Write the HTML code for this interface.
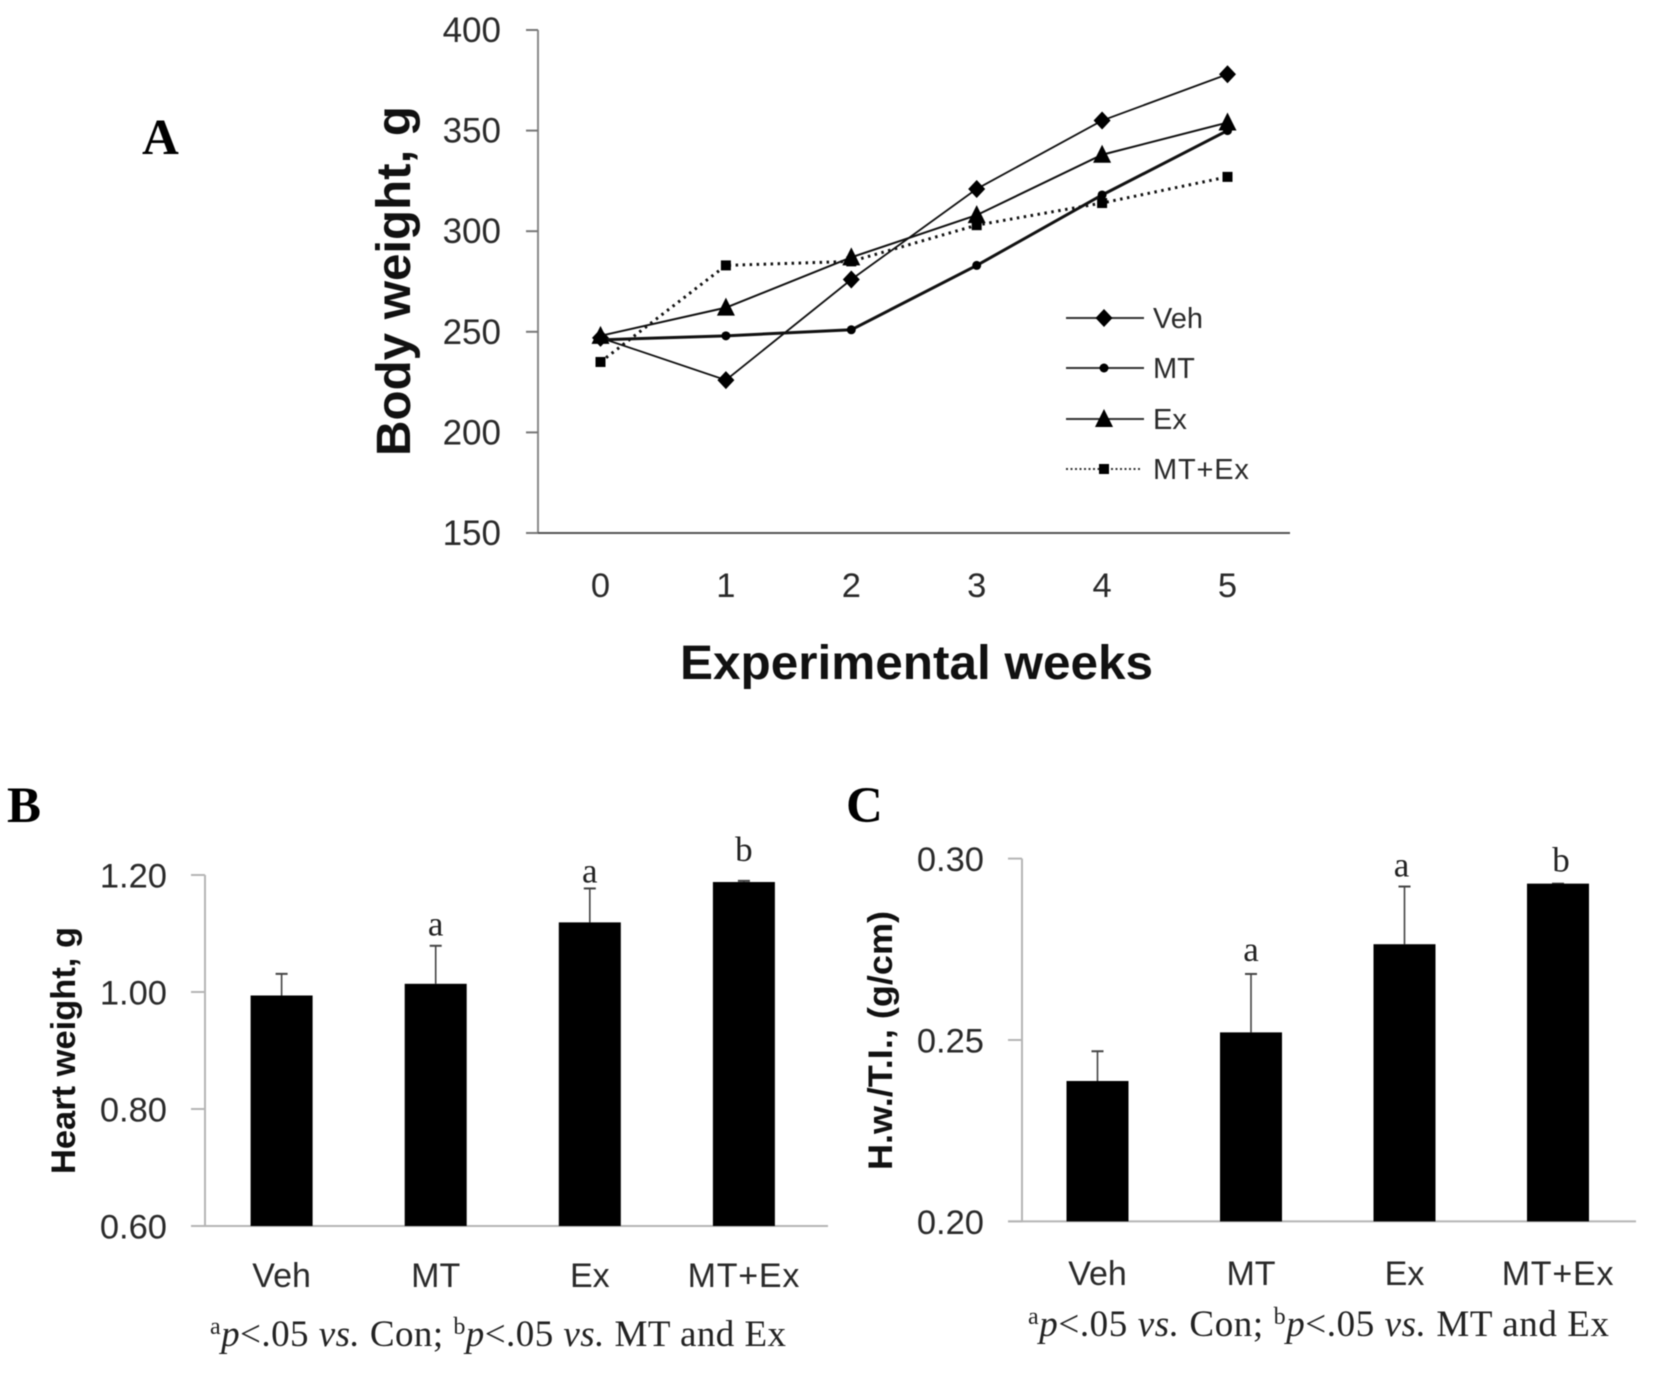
<!DOCTYPE html>
<html>
<head>
<meta charset="utf-8">
<title>Body weight, heart weight and H.w./T.I. charts</title>
<style>
html,body{margin:0;padding:0;background:#fff;width:1654px;height:1375px;overflow:hidden}
svg{display:block;filter:blur(0.45px)}
text{font-family:"Liberation Sans","Noto Sans CJK KR",sans-serif}
.serif{font-family:"Liberation Serif","Noto Serif CJK SC",serif}
.tick{font-size:34.5px;fill:#2a2a2a}
.tick-a{font-size:35px}
.cat{font-size:34px;fill:#2a2a2a}
.title{font-weight:bold;fill:#111}
.panel{font-family:"Liberation Serif",serif;font-weight:bold;font-size:51px;fill:#000}
.note{font-family:"Liberation Serif",serif;font-size:37px;fill:#222}
.sup{font-size:24px}
.sig{font-family:"Liberation Serif",serif;font-size:35px;fill:#222}
.leg{font-size:29px;fill:#2a2a2a}
</style>
</head>
<body>
<svg id="figure" xmlns="http://www.w3.org/2000/svg" width="1654" height="1375" viewBox="0 0 1654 1375">
  <rect x="0" y="0" width="1654" height="1375" fill="#fff"/>

  <text class="panel" x="142" y="154">A</text>
  <text class="panel" x="7" y="822">B</text>
  <text class="panel" x="846" y="822">C</text>

  <text class="title" font-size="48" textLength="350" lengthAdjust="spacingAndGlyphs" transform="translate(410,456) rotate(-90)">Body weight, g</text>
  <text class="title" font-size="48" textLength="473" lengthAdjust="spacingAndGlyphs" x="680" y="679">Experimental weeks</text>
  <text class="title" font-size="34" textLength="247" lengthAdjust="spacingAndGlyphs" transform="translate(75,1174) rotate(-90)">Heart weight, g</text>
  <text class="title" font-size="34" textLength="259" lengthAdjust="spacingAndGlyphs" transform="translate(892,1170) rotate(-90)">H.w./T.I., (g/cm)</text>

  <text class="note" x="210" y="1346" textLength="576"><tspan class="sup" dy="-12">a</tspan><tspan dy="12" font-style="italic">p</tspan>&lt;.05 <tspan font-style="italic">vs.</tspan> Con; <tspan class="sup" dy="-12">b</tspan><tspan dy="12" font-style="italic">p</tspan>&lt;.05 <tspan font-style="italic">vs.</tspan> MT and Ex</text>
  <text class="note" x="1028" y="1336" textLength="581"><tspan class="sup" dy="-12">a</tspan><tspan dy="12" font-style="italic">p</tspan>&lt;.05 <tspan font-style="italic">vs.</tspan> Con; <tspan class="sup" dy="-12">b</tspan><tspan dy="12" font-style="italic">p</tspan>&lt;.05 <tspan font-style="italic">vs.</tspan> MT and Ex</text>

  <g id="chart-a"></g>
  <g id="chart-b"></g>
  <g id="chart-c"></g>
</svg>

<script>
// Panel A data
const weeks = ['0', '1', '2', '3', '4', '5'];
const weightTicks = [150, 200, 250, 300, 350, 400];
const vehWeight = [247, 226, 276, 321, 355, 378];
const mtWeight = [246, 248, 251, 283, 318, 350];
const exWeight = [248, 262, 287, 308, 338, 354];
const mtExWeight = [235, 283, 285, 303, 314, 327];
const seriesNames = ['Veh', 'MT', 'Ex', 'MT+Ex'];

// Panel B data
const groups = ['Veh', 'MT', 'Ex', 'MT+Ex'];
const heartTicks = ['0.60', '0.80', '1.00', '1.20'];
const heartMeans = [0.994, 1.014, 1.119, 1.188];
const heartUpper = [1.031, 1.079, 1.177, 1.190];
const heartSig = ['', 'a', 'a', 'b'];

// Panel C data
const ratioTicks = ['0.20', '0.25', '0.30'];
const ratioMeans = [0.2387, 0.2521, 0.2764, 0.2931];
const ratioUpper = [0.2469, 0.2682, 0.2923, 0.2931];
const ratioSig = ['', 'a', 'a', 'b'];

const NS = 'http://www.w3.org/2000/svg';
function make(parent, tag, props) {
  const el = document.createElementNS(NS, tag);
  for (const k in props) el.setAttribute(k, props[k]);
  parent.appendChild(el);
  return el;
}
function slug(s) {
  return String(s).toLowerCase().replace(/[^a-z0-9]+/g, '-');
}
function spread(el, text) {
  if (text.indexOf('+') >= 0) el.style.letterSpacing = '0.8px';
}

// ---------- Panel A ----------
const chartA = document.getElementById('chart-a');
const xA = i => 600.5 + i * 125.4;
const yA = v => 533 - (v - 150) * (503 / 250);

const axisAY = make(chartA, 'line', {x1: 538, x2: 538, y1: yA(400), y2: yA(150), stroke: '#8a8a8a', 'stroke-width': 2});


const axisAX = make(chartA, 'line', {x1: 526, x2: 1290, y1: yA(150), y2: yA(150), stroke: '#555', 'stroke-width': 2});



weightTicks.forEach(t => {
  const mark = make(chartA, 'line', {x1: 526, x2: 538, y1: yA(t), y2: yA(t), stroke: '#777', 'stroke-width': 2});
  
  
  const label = make(chartA, 'text', {class: 'tick tick-a', x: 501, y: yA(t) + 12, 'text-anchor': 'end'});
  
  
  label.textContent = t;
});
weeks.forEach((w, i) => {
  const label = make(chartA, 'text', {class: 'tick', x: xA(i), y: 597, 'text-anchor': 'middle'});
  
  
  label.textContent = w;
});

function marker(parent, kind, x, y) {
  if (kind === 'diamond') return make(parent, 'polygon', {points: [x, y - 9, x + 8.5, y, x, y + 9, x - 8.5, y].join(' '), fill: '#000'});
  if (kind === 'circle') return make(parent, 'circle', {cx: x, cy: y, r: 4.5, fill: '#000'});
  if (kind === 'triangle') return make(parent, 'polygon', {points: [x, y - 10, x + 9, y + 8, x - 9, y + 8].join(' '), fill: '#000'});
  return make(parent, 'rect', {x: x - 5, y: y - 5, width: 10, height: 10, fill: '#000'});
}

const seriesA = [
  {values: mtExWeight, name: seriesNames[3], kind: 'square', width: 3, dash: '2.5 4.5', legendY: 469},
  {values: vehWeight, name: seriesNames[0], kind: 'diamond', width: 1.8, dash: '', legendY: 318},
  {values: mtWeight, name: seriesNames[1], kind: 'circle', width: 3, dash: '', legendY: 368},
  {values: exWeight, name: seriesNames[2], kind: 'triangle', width: 2, dash: '', legendY: 419}
];
seriesA.forEach(s => {
  const group = make(chartA, 'g', {});
  
  
  const line = make(group, 'polyline', {
    points: s.values.map((v, i) => xA(i) + ',' + yA(v)).join(' '),
    fill: 'none', stroke: '#111', 'stroke-width': s.width, 'stroke-dasharray': s.dash
  });
  
  
  s.values.forEach((v, i) => {
    const m = marker(group, s.kind, xA(i), yA(v));
    
    
  });

  const entry = make(chartA, 'g', {});
  
  
  const dotted = s.dash !== '';
  const swatch = make(entry, 'line', {
    x1: 1066, x2: dotted ? 1140 : 1144, y1: s.legendY, y2: s.legendY,
    stroke: '#333', 'stroke-width': 2, 'stroke-dasharray': dotted ? '2 2.5' : ''
  });
  
  
  const lm = marker(entry, s.kind, 1104, s.legendY);
  
  
  const lt = make(entry, 'text', {class: 'leg', x: 1153, y: s.legendY + 10});
  
  
  lt.textContent = s.name;
  spread(lt, s.name);
});

// ---------- Bar panels ----------
function barChart(root, cfg) {
  const y = v => cfg.y0 - (v - cfg.min) * (cfg.y0 - cfg.y1) / (cfg.max - cfg.min);
  const x = i => cfg.x0 + i * cfg.step;

  const ay = make(root, 'line', {x1: cfg.axisX, x2: cfg.axisX, y1: y(cfg.max), y2: y(cfg.min), stroke: '#b5b5b5', 'stroke-width': 2});
  
  
  const ax = make(root, 'line', {x1: cfg.axisX - 14, x2: cfg.axisEnd, y1: y(cfg.min), y2: y(cfg.min), stroke: '#b5b5b5', 'stroke-width': 2});
  
  

  cfg.ticks.forEach(t => {
    const v = parseFloat(t);
    const mark = make(root, 'line', {x1: cfg.axisX - 14, x2: cfg.axisX, y1: y(v), y2: y(v), stroke: '#b5b5b5', 'stroke-width': 2});
    
    
    const label = make(root, 'text', {class: 'tick', x: cfg.axisX - 38, y: y(v) + 12.5, 'text-anchor': 'end'});
    
    
    label.textContent = t;
  });

  cfg.means.forEach((m, i) => {
    const whisker = make(root, 'line', {x1: x(i), x2: x(i), y1: y(cfg.upper[i]), y2: y(m), stroke: '#444', 'stroke-width': 1.6});
    
    
    const cap = make(root, 'line', {x1: x(i) - 6, x2: x(i) + 6, y1: y(cfg.upper[i]), y2: y(cfg.upper[i]), stroke: '#444', 'stroke-width': 2});
    
    

    const bar = make(root, 'rect', {x: x(i) - 31, y: y(m), width: 62, height: y(cfg.min) - y(m), fill: '#000'});
    
    

    const label = make(root, 'text', {class: 'cat', x: x(i), y: cfg.catY, 'text-anchor': 'middle'});
    
    
    label.textContent = groups[i];
    spread(label, groups[i]);

    if (cfg.sig[i]) {
      const mark = make(root, 'text', {class: 'sig', x: x(i) + cfg.sigDx(i), y: y(Math.max(cfg.upper[i], m)) - cfg.sigGap(i), 'text-anchor': 'middle'});
      
      
      mark.textContent = cfg.sig[i];
    }
  });
}

barChart(document.getElementById('chart-b'), {
  min: 0.6, max: 1.2, y0: 1226, y1: 875, x0: 281.6, step: 154.1,
  axisX: 205, axisEnd: 828, ticks: heartTicks, means: heartMeans, upper: heartUpper,
  sig: heartSig, catY: 1287,
  sigDx: i => 0,
  sigGap: i => (i === 3 ? 20 : i === 2 ? 6 : 10.5)
});
barChart(document.getElementById('chart-c'), {
  min: 0.2, max: 0.3, y0: 1221.4, y1: 858.6, x0: 1097.5, step: 153.5,
  axisX: 1022, axisEnd: 1636, ticks: ratioTicks, means: ratioMeans, upper: ratioUpper,
  sig: ratioSig, catY: 1285,
  sigDx: i => (i === 2 ? -3 : i === 3 ? 3 : 0),
  sigGap: i => (i === 2 ? 10 : i === 3 ? 12 : 13)
});
</script>
</body>
</html>
